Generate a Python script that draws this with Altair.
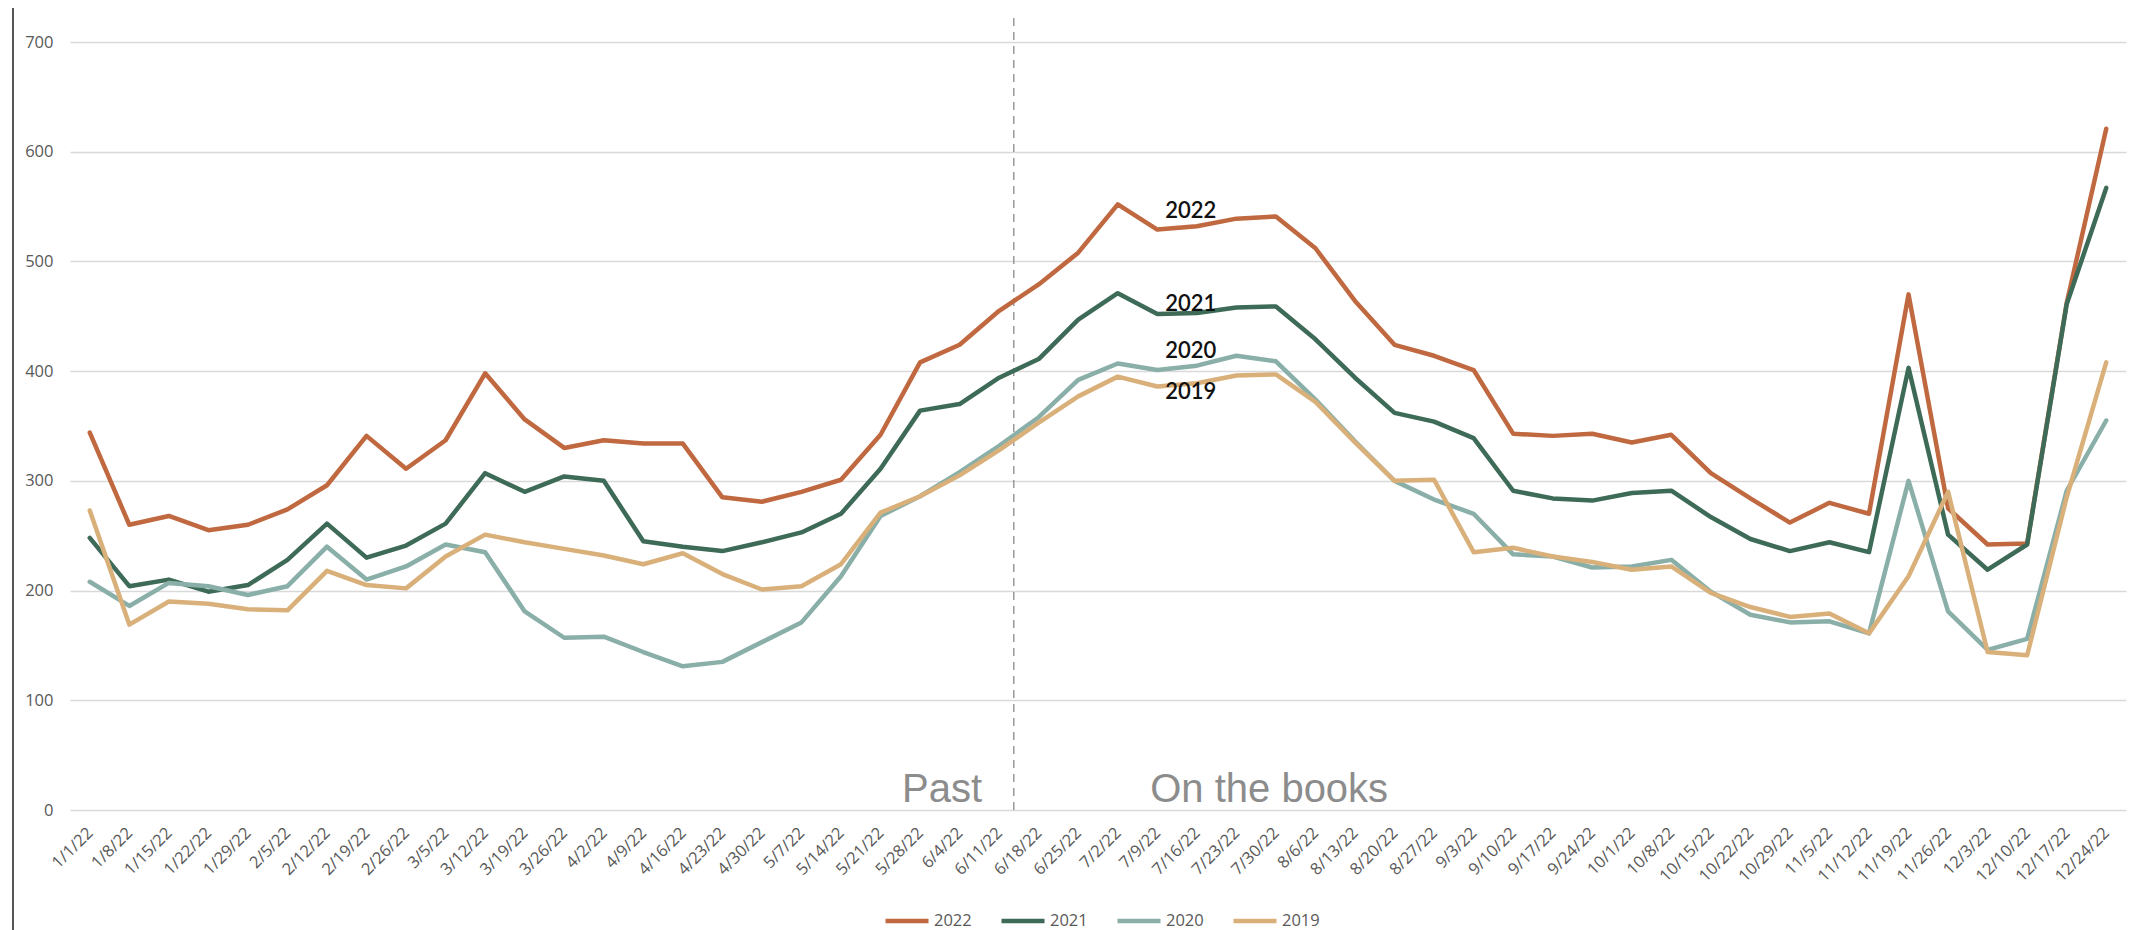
import altair as alt
import pandas as pd

weeks = ["1/1/22", "1/8/22", "1/15/22", "1/22/22", "1/29/22", "2/5/22", "2/12/22", "2/19/22",
         "2/26/22", "3/5/22", "3/12/22", "3/19/22", "3/26/22", "4/2/22", "4/9/22", "4/16/22",
         "4/23/22", "4/30/22", "5/7/22", "5/14/22", "5/21/22", "5/28/22", "6/4/22", "6/11/22",
         "6/18/22", "6/25/22", "7/2/22", "7/9/22", "7/16/22", "7/23/22", "7/30/22", "8/6/22",
         "8/13/22", "8/20/22", "8/27/22", "9/3/22", "9/10/22", "9/17/22", "9/24/22", "10/1/22",
         "10/8/22", "10/15/22", "10/22/22", "10/29/22", "11/5/22", "11/12/22", "11/19/22",
         "11/26/22", "12/3/22", "12/10/22", "12/17/22", "12/24/22"]

s2022 = [344, 260, 268, 255, 260, 274, 296, 341, 311, 337, 398, 356, 330, 337, 334, 334,
         285, 281, 290, 301, 342, 408, 424, 455, 479, 508, 552, 529, 532, 539, 541, 512,
         464, 424, 414, 401, 343, 341, 343, 335, 342, 307, 284, 262, 280, 270, 470, 275,
         242, 243, 462, 621]
s2021 = [248, 204, 210, 199, 205, 228, 261, 230, 241, 261, 307, 290, 304, 300, 245, 240,
         236, 244, 253, 270, 311, 364, 370, 394, 411, 447, 471, 452, 453, 458, 459, 429,
         394, 362, 354, 339, 291, 284, 282, 289, 291, 267, 247, 236, 244, 235, 403, 251,
         219, 242, 461, 567]
s2020 = [208, 186, 207, 204, 196, 204, 240, 210, 222, 242, 235, 181, 157, 158, 144, 131,
         135, 153, 171, 213, 268, 286, 308, 332, 358, 392, 407, 401, 405, 414, 409, 374,
         336, 300, 283, 270, 233, 231, 221, 222, 228, 199, 178, 171, 172, 161, 300, 181,
         146, 156, 291, 355]
s2019 = [273, 169, 190, 188, 183, 182, 218, 205, 202, 231, 251, 244, 238, 232, 224, 234,
         215, 201, 204, 224, 271, 286, 305, 328, 353, 377, 395, 386, 389, 396, 397, 372,
         335, 300, 301, 235, 239, 231, 226, 219, 222, 198, 185, 176, 179, 161, 213, 290,
         144, 141, 285, 408]

series_names = ["2022", "2021", "2020", "2019"]
series_colors = ["#C0683F", "#3E6B57", "#89AFA8", "#D9B07A"]

# annotation texts
label_text = ["2022", "2021", "2020", "2019"]
label_y = [540, 455, 412, 375]
label_x = 27.2
split_x = 23.37
split_top = 725

rows = []
for name, vals in zip(series_names, [s2022, s2021, s2020, s2019]):
    for i, (w, v) in enumerate(zip(weeks, vals)):
        rows.append({"idx": i, "week": w, "series": name, "value": v})
df = pd.DataFrame(rows)

label_expr = "[" + ",".join("'" + w + "'" for w in weeks) + "][datum.value]"

FONT = "Open Sans"
GRAY = "#595959"

x_enc = alt.X(
    "idx:Q",
    scale=alt.Scale(domain=[-0.5, len(weeks) - 0.5], nice=False, zero=False),
    axis=alt.Axis(
        values=list(range(len(weeks))), labelExpr=label_expr, labelAngle=-45,
        labelAlign="right", labelBaseline="middle", labelPadding=20, ticks=False,
        domain=False, grid=False, labelFont=FONT, labelFontSize=16.5, labelColor=GRAY,
        title=None, labelOverlap=False, labelBound=False, labelFlush=False,
    ),
)
y_enc = alt.Y(
    "value:Q",
    scale=alt.Scale(domain=[0, 700], nice=False),
    axis=alt.Axis(
        values=list(range(0, 701, 100)), grid=True, gridColor="#d9d9d9", gridWidth=1.5,
        domain=False, ticks=False, labelPadding=17, labelFont=FONT, labelFontSize=16.5,
        labelColor=GRAY, title=None,
    ),
)

lines = alt.Chart(df).mark_line(strokeWidth=4.5, strokeJoin="round", strokeCap="round").encode(
    x=x_enc,
    y=y_enc,
    color=alt.Color(
        "series:N",
        scale=alt.Scale(domain=series_names, range=series_colors),
        legend=alt.Legend(
            orient="none", legendX=813, legendY=855, direction="horizontal", title=None,
            symbolType="stroke", symbolStrokeWidth=4.5, symbolSize=1849, labelFont=FONT,
            labelFontSize=16.5, labelColor=GRAY, columnPadding=20, labelOffset=3,
            padding=0,
        ),
    ),
    order=alt.Order("idx:Q"),
)

split_df = pd.DataFrame({"x": [split_x], "y": [0], "y2": [split_top]})
split_rule = alt.Chart(split_df).mark_rule(
    strokeDash=[8, 6], color="#9a9a9a", strokeWidth=1.5
).encode(x="x:Q", y="y:Q", y2="y2:Q")

past = alt.Chart(pd.DataFrame({"x": [22.57], "y": [7], "t": ["Past"]})).mark_text(
    align="right", baseline="alphabetic", font="Liberation Sans", fontSize=40, color="#8c8c8c"
).encode(x="x:Q", y="y:Q", text="t:N")

books = alt.Chart(pd.DataFrame({"x": [26.82], "y": [7], "t": ["On the books"]})).mark_text(
    align="left", baseline="alphabetic", font="Liberation Sans", fontSize=40, color="#8c8c8c"
).encode(x="x:Q", y="y:Q", text="t:N")

lab_df = pd.DataFrame({"x": [label_x] * 4, "y": label_y, "t": label_text})
series_labels = alt.Chart(lab_df).mark_text(
    align="left", baseline="alphabetic", font="Lato", fontSize=22, fontWeight=600, color="#111111"
).encode(x="x:Q", y="y:Q", text="t:N")

frame = alt.Chart(pd.DataFrame({"a": [0]})).mark_rule(color="#555555", strokeWidth=2).encode(
    x=alt.value(-57), y=alt.value(-42), y2=alt.value(890)
)

chart = alt.layer(split_rule, lines, past, books, series_labels, frame).properties(
    width=2056, height=768,
    padding={"left": 62, "top": 34, "right": 5, "bottom": 120},
    autosize=alt.AutoSizeParams(type="none"),
    background="white",
).configure_view(stroke=None)

chart.save("out.html", embed_options={"renderer": "svg", "actions": False})
